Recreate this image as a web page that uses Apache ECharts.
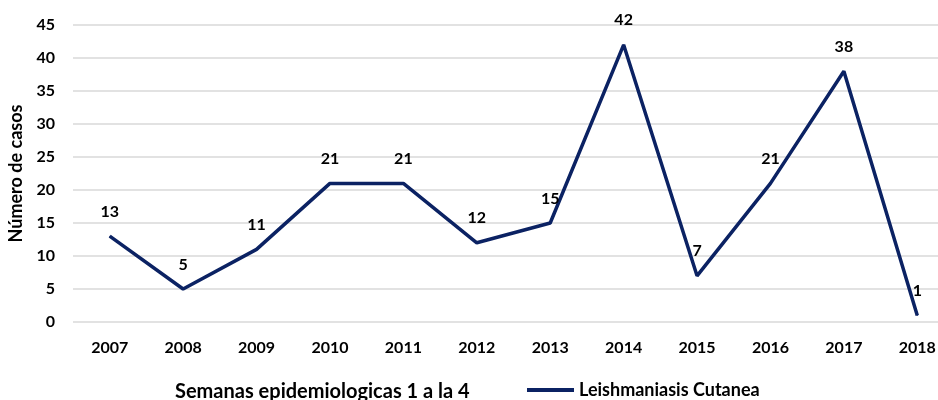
<!DOCTYPE html>
<html>
<head>
<meta charset="utf-8">
<script src="https://cdn.jsdelivr.net/npm/echarts@6/dist/echarts.min.js"></script>
<style>
  html, body { margin: 0; padding: 0; background: #fff; }
  #chart { width: 938px; height: 400px; }
</style>
</head>
<body>
<div id="chart"></div>
<script>
const years = ['2007', '2008', '2009', '2010', '2011', '2012', '2013', '2014', '2015', '2016', '2017', '2018'];
const casos = [13, 5, 11, 21, 21, 12, 15, 42, 7, 21, 38, 1];
const seriesName = 'Leishmaniasis Cutanea';

const font = 'Lato';
const navy = '#0b2263';

const chart = echarts.init(document.getElementById('chart'));
chart.setOption({
  animation: false,
  textStyle: { fontFamily: font },
  grid: { left: 73, right: -16, top: 25, bottom: 78, outerBoundsMode: 'none' },
  legend: {
    left: 522,
    top: 376,
    itemWidth: 47,
    itemHeight: 4,
    icon: 'rect',
    textStyle: { fontFamily: font, fontSize: 18, fontWeight: 'bold', color: '#000' },
    data: [seriesName]
  },
  graphic: [{
    type: 'text',
    left: 175,
    top: 382,
    style: {
      text: 'Semanas epidemiologicas 1 a la 4',
      font: 'bold 20px Lato',
      fill: '#000'
    }
  }],
  xAxis: {
    type: 'category',
    data: years,
    boundaryGap: true,
    axisLine: { show: false },
    axisTick: { show: false },
    axisLabel: { margin: 18, fontSize: 16, fontWeight: 'bold', color: '#000', fontFamily: font }
  },
  yAxis: {
    type: 'value',
    min: 0,
    max: 45,
    interval: 5,
    name: 'Número de casos',
    nameLocation: 'middle',
    nameGap: 45,
    nameTextStyle: { fontSize: 18, fontWeight: 'bold', color: '#000', fontFamily: font },
    axisLine: { show: false },
    axisTick: { show: false },
    axisLabel: { margin: 18, fontSize: 16, fontWeight: 'bold', color: '#000', fontFamily: font },
    splitLine: { lineStyle: { color: '#d9d9d9', width: 1.5 } }
  },
  series: [{
    name: seriesName,
    type: 'line',
    data: casos,
    symbol: 'circle',
    symbolSize: 1,
    itemStyle: { color: navy },
    lineStyle: { color: navy, width: 3.5 },
    label: {
      show: true,
      position: 'top',
      distance: 16,
      fontSize: 16,
      fontWeight: 'bold',
      color: '#000',
      fontFamily: font
    }
  }]
});
</script>
</body>
</html>
